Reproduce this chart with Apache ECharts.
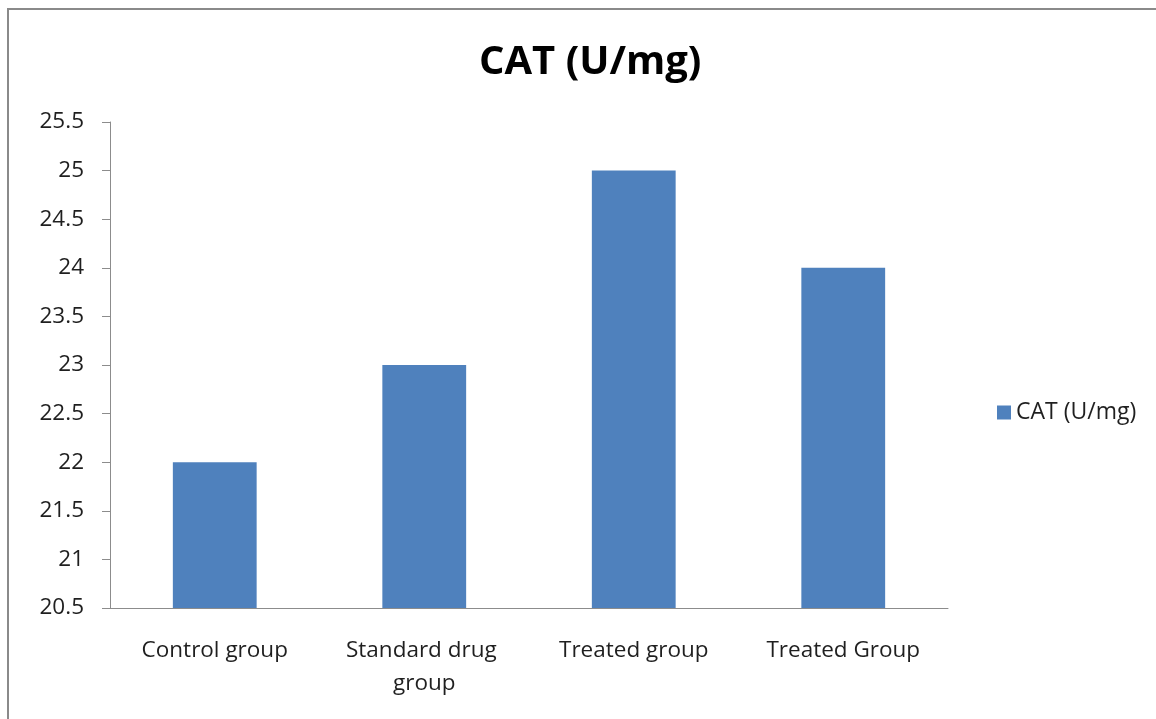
<!DOCTYPE html>
<html>
<head>
<meta charset="utf-8">
<style>
  html, body { margin: 0; padding: 0; background: #fff; }
  #chart { width: 1156px; height: 719px; }
</style>
<script src="https://cdn.jsdelivr.net/npm/echarts@6/dist/echarts.min.js"></script>
</head>
<body>
<div id="chart"></div>
<script>
// CAT activity per group
const categories = ['Control group', 'Standard drug group', 'Treated group', 'Treated Group'];
const catValues = [22, 23, 25, 24];
const seriesName = 'CAT (U/mg)';
const yMin = 20.5;
const yMax = 25.5;
const yStep = 0.5;

const FONT = '"Open Sans", "Liberation Sans", sans-serif';
const AXIS_GRAY = '#8c8c8c';
const TEXT = '#1f1f1f';

const chart = echarts.init(document.getElementById('chart'));
chart.setOption({
  backgroundColor: '#ffffff',
  animation: false,
  title: {
    text: seriesName,
    left: 474,
    top: 38,
    textStyle: { fontFamily: FONT, fontSize: 40, fontWeight: 'bold', color: '#000' }
  },
  legend: {
    data: [seriesName],
    orient: 'vertical',
    left: 992,
    top: 396,
    icon: 'rect',
    itemWidth: 14,
    itemHeight: 14,
    textStyle: { fontFamily: FONT, fontSize: 23, color: TEXT }
  },
  grid: { left: 110, right: 208, top: 122, bottom: 111 },
  xAxis: {
    type: 'category',
    data: categories,
    axisLine: { lineStyle: { color: AXIS_GRAY, width: 1 } },
    axisTick: { length: 9, lineStyle: { color: AXIS_GRAY } },
    axisLabel: {
      interval: 0,
      margin: 26,
      width: 185,
      overflow: 'break',
      lineHeight: 33,
      fontFamily: FONT,
      fontSize: 22.5,
      color: TEXT
    }
  },
  yAxis: {
    type: 'value',
    min: yMin,
    max: yMax,
    interval: yStep,
    splitLine: { show: false },
    axisLine: { show: true, lineStyle: { color: AXIS_GRAY, width: 1 } },
    axisTick: { show: true, length: 8, lineStyle: { color: AXIS_GRAY } },
    axisLabel: { margin: 26, fontFamily: FONT, fontSize: 22.5, color: TEXT }
  },
  series: [{
    name: seriesName,
    type: 'bar',
    data: catValues,
    barWidth: '40%',
    itemStyle: { color: '#4F81BD' }
  }],
  graphic: [{
    type: 'rect',
    shape: { x: 8, y: 9, width: 1200, height: 800 },
    style: { fill: null, stroke: '#8a8a8a', lineWidth: 2 },
    silent: true
  }]
});
</script>
</body>
</html>
